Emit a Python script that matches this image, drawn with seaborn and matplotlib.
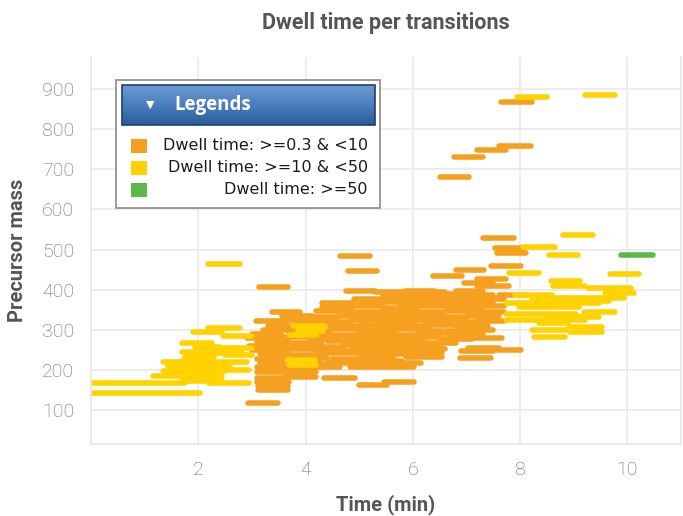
import numpy as np
import pandas as pd
import matplotlib
matplotlib.use("Agg")
import matplotlib.pyplot as plt
import seaborn as sns
from matplotlib.patches import Rectangle
from matplotlib.colors import LinearSegmentedColormap

# ---------------- data: (start time, end time, precursor mass) ----------------
class_labels = ["Dwell time: >=0.3 & <10", "Dwell time: >=10 & <50", "Dwell time: >=50"]
class_colors = ["#F5A01E", "#FFD200", "#5DB848"]

short_dwell = [
    (2.93, 3.49, 117), (3.11, 3.68, 150), (3.11, 3.68, 160), (3.13, 3.68, 406),
    (4.64, 5.20, 484), (4.79, 5.34, 446), (5.00, 5.52, 163), (5.47, 6.03, 170),
    (6.50, 7.05, 681), (6.76, 7.30, 730), (7.19, 7.74, 748), (7.61, 8.20, 758),
    (7.65, 8.22, 867), (7.31, 7.89, 529), (7.54, 8.07, 504), (7.56, 8.10, 491),
    (7.46, 8.02, 459), (6.80, 7.33, 449), (6.37, 6.92, 434), (7.20, 7.74, 426),
    (6.96, 7.50, 416), (7.20, 7.80, 409), (6.87, 7.46, 230), (7.02, 7.60, 254),
    (7.20, 8.02, 250), (5.88, 6.55, 232), (6.68, 7.67, 279),
    (4.75, 5.30, 397), (5.30, 5.90, 395), (5.85, 6.40, 397), (6.30, 6.60, 393), (6.80, 7.30, 396),
    (5.45, 6.00, 387), (6.00, 6.50, 385), (6.50, 7.00, 388), (7.00, 7.50, 386), (7.60, 8.10, 387),
    (4.90, 5.45, 377), (5.50, 6.05, 379), (6.10, 6.60, 376), (6.60, 7.20, 378), (7.10, 7.70, 377),
    (4.30, 4.85, 367), (4.50, 5.10, 365), (5.15, 5.70, 368), (5.75, 6.30, 366), (6.30, 6.90, 368), (6.90, 7.50, 366),
    (4.30, 4.88, 356), (4.90, 5.45, 358), (5.50, 6.10, 355), (6.15, 6.70, 358), (6.70, 7.30, 356), (7.20, 7.70, 358),
    (3.37, 3.89, 344), (4.20, 4.80, 346), (4.85, 5.40, 344), (5.40, 6.00, 346), (6.05, 6.60, 343), (6.60, 7.20, 346), (7.20, 7.70, 344),
    (3.56, 4.14, 334), (4.00, 4.60, 332), (4.60, 5.20, 335), (5.25, 5.80, 333), (5.80, 6.40, 335), (6.45, 7.00, 332), (7.00, 7.60, 334),
    (3.07, 3.65, 321), (3.60, 4.20, 323), (4.25, 4.85, 320), (4.85, 5.45, 323), (5.45, 6.05, 321), (6.05, 6.65, 323), (6.65, 7.25, 320), (7.20, 7.70, 322),
    (3.30, 3.85, 310), (3.80, 4.40, 312), (4.45, 5.00, 309), (5.00, 5.60, 311), (5.65, 6.20, 309), (6.20, 6.80, 311), (6.80, 7.40, 310),
    (3.20, 3.80, 300), (3.85, 4.45, 298), (4.50, 5.10, 301), (5.10, 5.70, 299), (5.70, 6.30, 301), (6.35, 6.90, 298), (6.90, 7.50, 300),
    (3.00, 3.55, 289), (3.70, 4.30, 291), (4.30, 4.90, 288), (4.95, 5.50, 290), (5.50, 6.10, 288), (6.10, 6.70, 291), (6.70, 7.30, 289),
    (2.90, 3.45, 279), (3.50, 4.10, 281), (4.10, 4.70, 278), (4.70, 5.30, 281), (5.30, 5.90, 279), (5.95, 6.50, 281), (6.50, 7.10, 278),
    (3.10, 3.70, 270), (3.75, 4.30, 268), (4.40, 5.00, 271), (5.00, 5.60, 269), (5.65, 6.20, 271), (6.20, 6.80, 268),
    (2.95, 3.50, 259), (3.50, 4.10, 261), (4.15, 4.70, 258), (4.70, 5.30, 261), (5.30, 5.90, 259), (5.90, 6.50, 260),
    (3.00, 3.55, 249), (3.60, 4.20, 251), (4.20, 4.80, 248), (4.85, 5.40, 250), (5.40, 6.00, 248), (6.00, 6.60, 251), (6.90, 7.50, 248),
    (3.15, 3.70, 240), (3.75, 4.35, 238), (4.40, 5.00, 241), (5.00, 5.60, 239), (5.60, 6.20, 240), (5.90, 6.55, 242),
    (3.10, 3.65, 228), (3.80, 4.40, 229), (4.50, 5.10, 227), (5.10, 5.65, 229), (5.20, 5.80, 222),
    (3.15, 3.70, 217), (3.70, 4.30, 216), (4.40, 5.00, 218), (5.00, 5.60, 216), (5.60, 6.15, 217),
    (3.10, 3.65, 207), (3.60, 4.20, 206), (4.10, 4.64, 208), (4.83, 5.40, 206), (5.45, 6.03, 207),
    (3.10, 3.65, 195), (3.65, 4.20, 194),
    (3.10, 3.65, 180), (3.60, 4.20, 182), (4.35, 4.92, 180),
    (3.10, 3.70, 170),
]

mid_dwell = [
    (2.18, 2.78, 463), (7.95, 8.50, 880), (9.21, 9.77, 885),
    (2.18, 2.78, 304), (1.90, 2.45, 294), (2.46, 3.00, 284), (1.70, 2.26, 268),
    (1.94, 2.40, 258), (2.18, 3.00, 254), (1.70, 2.26, 244), (2.26, 2.82, 242),
    (2.50, 3.00, 238), (1.76, 2.30, 233), (1.35, 1.88, 220), (1.70, 2.30, 222),
    (2.30, 2.90, 220), (1.44, 2.07, 210), (2.07, 2.60, 210), (1.35, 2.07, 196),
    (1.94, 2.50, 196), (2.26, 2.95, 199), (1.16, 1.70, 185), (1.70, 2.44, 185),
    (0.00, 1.75, 167), (1.70, 2.44, 172), (2.20, 2.95, 167), (0.00, 2.04, 142),
    (3.77, 4.36, 310), (3.85, 4.32, 296), (3.70, 4.20, 286), (3.65, 4.17, 225), (3.70, 4.20, 212),
    (8.80, 9.36, 536), (8.06, 8.65, 506), (8.54, 9.08, 486), (7.80, 8.36, 441),
    (9.67, 10.21, 439), (8.58, 9.12, 421), (8.62, 9.20, 409), (9.27, 10.06, 404),
    (9.58, 10.12, 392), (7.90, 8.60, 387), (8.23, 8.80, 379), (8.80, 9.40, 379),
    (9.40, 9.93, 379), (8.86, 9.40, 372), (9.20, 9.66, 372), (7.74, 8.30, 367),
    (8.30, 8.90, 367), (8.90, 9.47, 367), (7.98, 8.50, 357), (8.50, 9.10, 357),
    (9.19, 9.77, 344), (7.74, 8.30, 340), (8.30, 9.04, 340), (8.54, 9.10, 332),
    (9.00, 9.47, 332), (7.74, 8.30, 324), (8.30, 9.20, 324), (8.35, 8.90, 316),
    (8.91, 9.53, 307), (8.23, 8.86, 299), (8.93, 9.53, 294), (8.25, 8.84, 282),
]

long_dwell = [
    (9.88, 10.47, 486),
]

x_ticks = [2, 4, 6, 8, 10]
y_ticks = [100, 200, 300, 400, 500, 600, 700, 800, 900]

# ---------------- long-form table ----------------
records = []
for label, segs in zip(class_labels, [short_dwell, mid_dwell, long_dwell]):
    for i, (s, e, m) in enumerate(segs):
        uid = f"{label}-{i}"
        records.append({"seg": uid, "time": s, "mass": m, "dwell": label})
        records.append({"seg": uid, "time": e, "mass": m, "dwell": label})
df = pd.DataFrame(records)

# ---------------- figure ----------------
sns.set_theme(style="whitegrid")
plt.rcParams["font.family"] = ["Roboto", "DejaVu Sans"]

fig = plt.figure(figsize=(6.83, 5.16), dpi=100)
ax = fig.add_axes([0.1332, 0.1395, 0.864, 0.75])

sns.lineplot(data=df, x="time", y="mass", hue="dwell", hue_order=class_labels,
             palette=class_colors, units="seg", estimator=None, sort=False,
             linewidth=4.0, solid_capstyle="round", legend=False, ax=ax)

ax.set_xlim(0, 11)
ax.set_ylim(15, 980)
ax.set_xticks(x_ticks)
ax.set_yticks(y_ticks)
ax.set_xticklabels([str(t) for t in x_ticks])
ax.set_yticklabels([str(t) for t in y_ticks])
ax.tick_params(length=0, labelsize=14, labelcolor="#6a6a6a", pad=12)
for lab in ax.get_xticklabels() + ax.get_yticklabels():
    lab.set_fontweight("light")
ax.grid(True, color="#ebebeb", linewidth=1.3)
ax.set_facecolor("white")
for name, sp in ax.spines.items():
    sp.set_color("#e6e6e6")
    sp.set_linewidth(1.2)
ax.spines["top"].set_visible(False)

ax.set_xlabel("Time (min)", fontsize=14.5, fontweight="bold", color="#555555", labelpad=11)
ax.set_ylabel("Precursor mass", fontsize=14.5, fontweight="bold", color="#555555", labelpad=11)
ax.set_title("Dwell time per transitions", fontsize=15.5, fontweight="bold", color="#555555", pad=20)

# ---------------- legend panel ----------------
lax = fig.add_axes([116 / 683, 1 - 208 / 516, 264 / 683, 128 / 516])
lax.set_xlim(0, 1)
lax.set_ylim(0, 1)
lax.axis("off")
lax.add_patch(Rectangle((0, 0), 1, 1, facecolor="white", edgecolor="#8a8a8a", linewidth=1.2,
                        transform=lax.transAxes, clip_on=False))
hx0, hx1 = 6 / 264, 259 / 264
hy0, hy1 = 1 - 45 / 128, 1 - 5 / 128
cmap = LinearSegmentedColormap.from_list("hdr", ["#2b5c9c", "#4a7dbd", "#6e9ad0"])
grad = np.linspace(0, 1, 64).reshape(-1, 1)
lax.imshow(grad, extent=[hx0, hx1, hy0, hy1], origin="lower", aspect="auto", cmap=cmap, zorder=2)
lax.add_patch(Rectangle((hx0, hy0), hx1 - hx0, hy1 - hy0, facecolor="none",
                        edgecolor="#1d3f70", linewidth=1.2, zorder=3))
hy = (hy0 + hy1) / 2
lax.text(34 / 264, hy, "▼", color="white", fontsize=8, va="center", ha="center",
         family=["DejaVu Sans"], zorder=4)
lax.text(58 / 264, hy, "Legends", color="white", fontsize=13.5, fontweight="bold",
         va="center", ha="left", family=["Open Sans", "DejaVu Sans"], zorder=4)
entry_y = [1 - 66 / 128, 1 - 88 / 128, 1 - 110 / 128]
for yy, lab, col in zip(entry_y, class_labels, class_colors):
    lax.add_patch(Rectangle((15 / 264, yy - 7 / 128), 16 / 264, 14 / 128,
                            facecolor=col, edgecolor="none", zorder=3))
    lax.text(252 / 264, yy, lab, color="#1a1a1a", fontsize=11.5, va="center", ha="right",
             family=["DejaVu Sans"], zorder=4)

fig.savefig("out.png", dpi=100)
